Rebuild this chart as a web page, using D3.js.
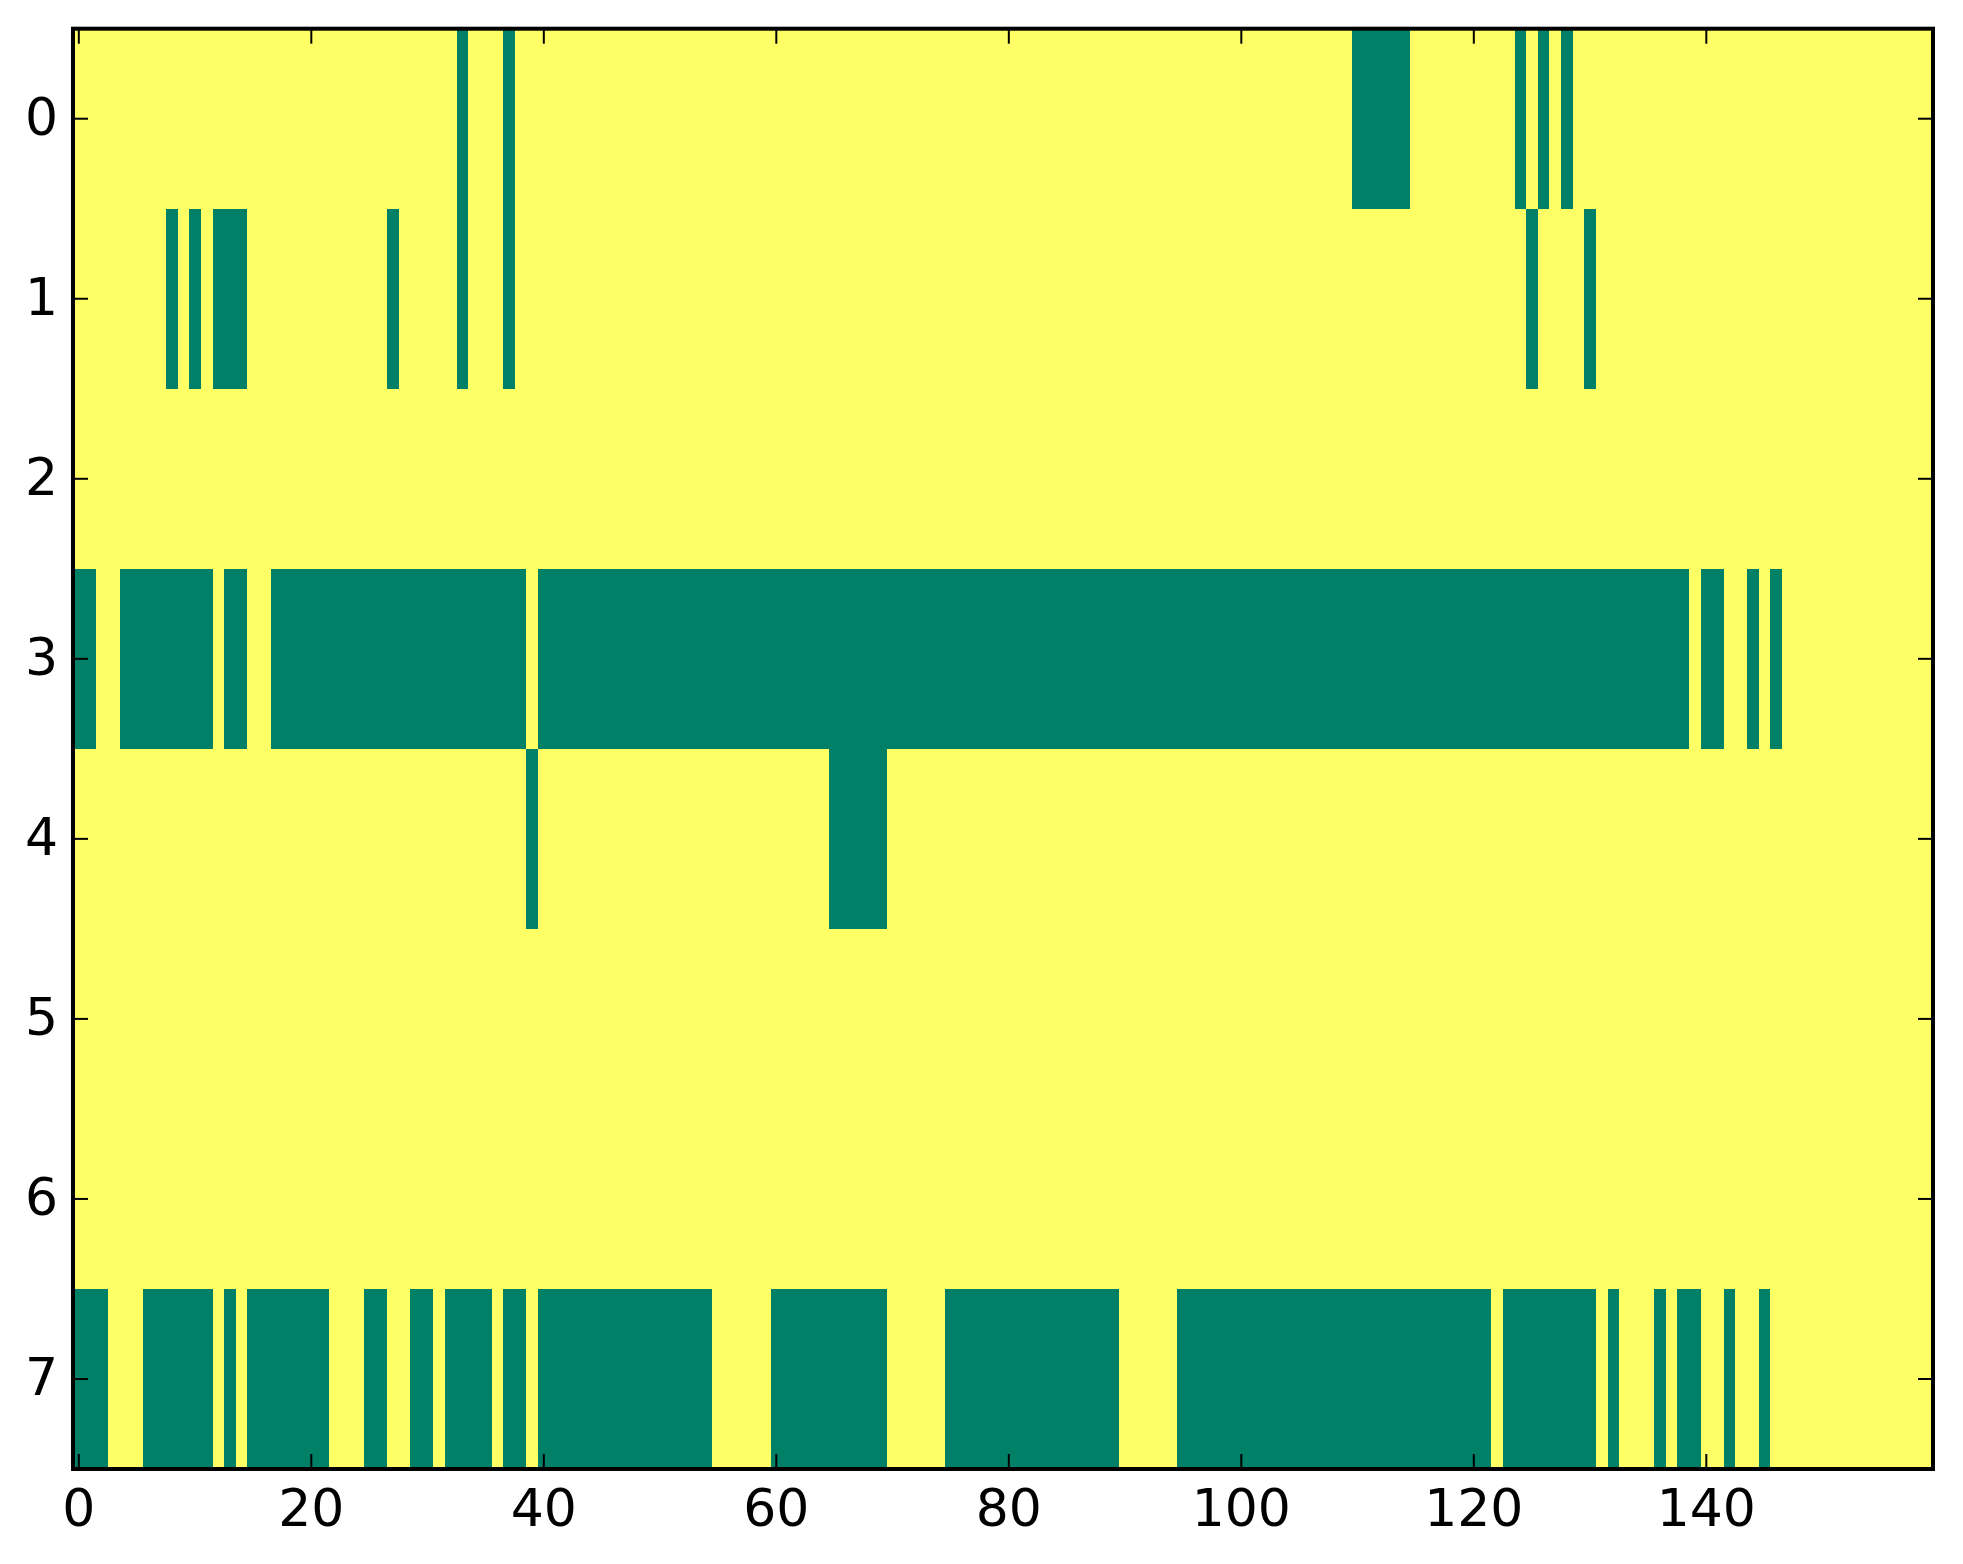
<!DOCTYPE html>
<html>
<head>
<meta charset="utf-8">
<script src="https://cdn.jsdelivr.net/npm/d3@7"></script>
<style>
  html, body { margin: 0; padding: 0; background: #ffffff; }
  svg { display: block; }
  text { font-family: "DejaVu Sans", sans-serif; }
</style>
</head>
<body>
<svg id="chart" width="1963" height="1564"></svg>
<script>
// ---- data ----
const rowLabels = [0, 1, 2, 3, 4, 5, 6, 7];
const xTickValues = [0, 20, 40, 60, 80, 100, 120, 140];
const nCols = 160;
// runs of low-value (green) cells per row, [start, end] inclusive; all other cells are high (yellow)
const row0 = [[33, 33], [37, 37], [110, 114], [124, 124], [126, 126], [128, 128]];
const row1 = [[8, 8], [10, 10], [12, 14], [27, 27], [33, 33], [37, 37], [125, 125], [130, 130]];
const row2 = [];
const row3 = [[0, 1], [4, 11], [13, 14], [17, 38], [40, 138], [140, 141], [144, 144], [146, 146]];
const row4 = [[39, 39], [65, 69]];
const row5 = [];
const row6 = [];
const row7 = [[0, 2], [6, 11], [13, 13], [15, 21], [25, 26], [29, 30], [32, 35], [37, 38], [40, 54],
              [60, 69], [75, 89], [95, 121], [123, 130], [132, 132], [136, 136], [138, 139], [142, 142], [145, 145]];
const rowsRuns = [row0, row1, row2, row3, row4, row5, row6, row7];

(function () {
  // ---- build cell table ----
  const cells = [];
  rowsRuns.forEach((runs, r) => {
    for (let c = 0; c < nCols; c++) {
      const low = runs.some(([a, b]) => c >= a && c <= b);
      cells.push({ row: r, col: c, value: low ? 0 : 1 });
    }
  });

  // ---- layout ----
  const mLeft = 73, mRight = 1933, mTop = 28.7, mBottom = 1469;

  const svg = d3.select("#chart");
  const x = d3.scaleLinear().domain([-0.5, nCols - 0.5]).range([mLeft, mRight]);
  const y = d3.scaleLinear().domain([-0.5, rowLabels.length - 0.5]).range([mTop, mBottom]);
  // summer colormap endpoints
  const color = d3.scaleLinear().domain([0, 1]).range(["#008066", "#ffff66"]);

  // cells
  svg.append("g")
    .attr("shape-rendering", "crispEdges")
    .selectAll("rect")
    .data(cells)
    .join("rect")
    .attr("x", d => x(d.col - 0.5))
    .attr("y", d => y(d.row - 0.5))
    .attr("width", d => x(d.col + 0.5) - x(d.col - 0.5) + 0.6)
    .attr("height", d => y(d.row + 0.5) - y(d.row - 0.5) + 0.6)
    .attr("fill", d => color(d.value));

  // ticks (inside, on all four sides)
  const tickLen = 15, tickW = 2;
  const tg = svg.append("g").attr("stroke", "#000").attr("stroke-width", tickW);
  xTickValues.forEach(v => {
    tg.append("line").attr("x1", x(v)).attr("x2", x(v)).attr("y1", mBottom).attr("y2", mBottom - tickLen);
    tg.append("line").attr("x1", x(v)).attr("x2", x(v)).attr("y1", mTop).attr("y2", mTop + tickLen);
  });
  rowLabels.forEach(v => {
    tg.append("line").attr("y1", y(v)).attr("y2", y(v)).attr("x1", mLeft).attr("x2", mLeft + tickLen);
    tg.append("line").attr("y1", y(v)).attr("y2", y(v)).attr("x1", mRight).attr("x2", mRight - tickLen);
  });

  // frame
  svg.append("rect")
    .attr("x", mLeft).attr("y", mTop)
    .attr("width", mRight - mLeft).attr("height", mBottom - mTop)
    .attr("fill", "none").attr("stroke", "#000").attr("stroke-width", 4);

  // tick labels
  const fontSize = 52;
  svg.append("g").selectAll("text")
    .data(xTickValues)
    .join("text")
    .attr("x", d => x(d))
    .attr("y", mBottom + 57)
    .attr("text-anchor", "middle")
    .attr("font-size", fontSize)
    .attr("fill", "#000")
    .text(d => d);

  svg.append("g").selectAll("text")
    .data(rowLabels)
    .join("text")
    .attr("x", mLeft - 15)
    .attr("y", d => y(d) + 16)
    .attr("text-anchor", "end")
    .attr("font-size", fontSize)
    .attr("fill", "#000")
    .text(d => d);
})();
</script>
</body>
</html>
